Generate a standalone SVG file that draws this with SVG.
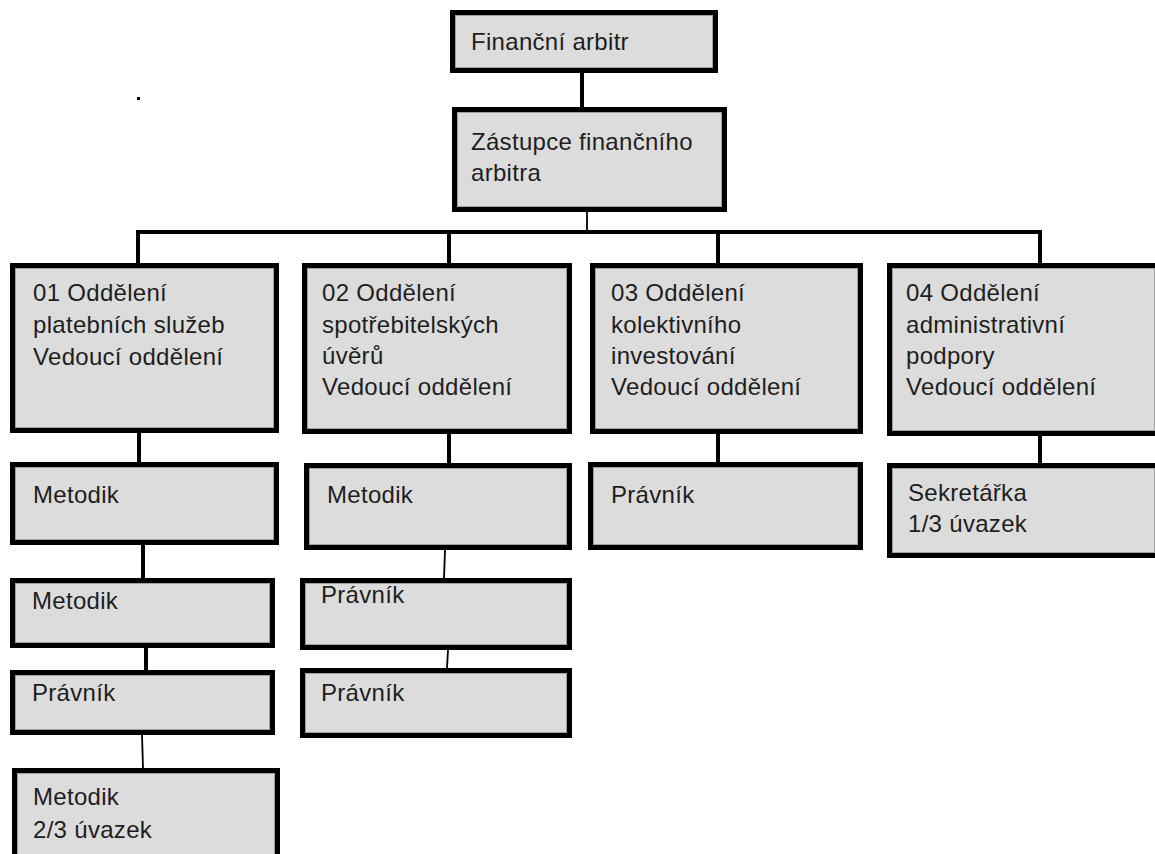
<svg xmlns="http://www.w3.org/2000/svg" width="1155" height="854" viewBox="0 0 1155 854">
<style>
.o{fill:#dcdcdc;stroke:#000;stroke-width:5}
.i{fill:none;stroke:#a0a0a0;stroke-width:1}
.t{font-family:"Liberation Sans",Arial,sans-serif;font-size:24px;letter-spacing:0.3px;fill:#1e1e1e}
.c{stroke:#000;stroke-width:4;fill:none}
.c2{stroke:#000;stroke-width:1.8;fill:none}
</style>
<rect width="1155" height="854" fill="#fff"/>
<rect x="137" y="97" width="3" height="3" fill="#000"/>
<g id="connectors">
<line class="c" x1="582" y1="73" x2="582" y2="107"/>
<line class="c2" x1="587" y1="212" x2="587" y2="232"/>
<line class="c" x1="136" y1="232" x2="1042" y2="232"/>
<line class="c" x1="138" y1="232" x2="138" y2="263"/>
<line class="c" x1="449" y1="232" x2="449" y2="263"/>
<line class="c" x1="718" y1="232" x2="718" y2="263"/>
<line class="c" x1="1040" y1="232" x2="1040" y2="263"/>
<line class="c" x1="139" y1="433" x2="139" y2="462"/>
<line class="c" x1="143" y1="545" x2="143" y2="578"/>
<line class="c" x1="146" y1="648" x2="146" y2="670"/>
<line class="c2" x1="142" y1="735" x2="143" y2="768"/>
<line class="c" x1="449" y1="434" x2="449" y2="463"/>
<line class="c2" x1="445" y1="550" x2="444" y2="578"/>
<line class="c2" x1="448" y1="650" x2="447" y2="668"/>
<line class="c" x1="718" y1="434" x2="718" y2="462"/>
<line class="c" x1="1040" y1="436" x2="1040" y2="463"/>
</g>
<g id="n-arbitr">
<rect class="o" x="452.5" y="12.5" width="263" height="58"/><rect class="i" x="455.5" y="15.5" width="257" height="52"/>
<text class="t" x="471" y="50">Finanční arbitr</text>
</g>
<g id="n-zastupce">
<rect class="o" x="454.5" y="109.5" width="270" height="100"/><rect class="i" x="457.5" y="112.5" width="264" height="94"/>
<text class="t" x="471" y="150">Zástupce finančního</text>
<text class="t" x="471" y="181">arbitra</text>
</g>
<g id="n-odd01">
<rect class="o" x="12.5" y="265.5" width="264" height="165"/><rect class="i" x="15.5" y="268.5" width="258" height="159"/>
<text class="t" x="33" y="301">01 Oddělení</text>
<text class="t" x="33" y="333">platebních služeb</text>
<text class="t" x="33" y="365">Vedoucí oddělení</text>
</g>
<g id="n-odd02">
<rect class="o" x="304.5" y="265.5" width="265" height="166"/><rect class="i" x="307.5" y="268.5" width="259" height="160"/>
<text class="t" x="322" y="301">02 Oddělení</text>
<text class="t" x="322" y="333">spotřebitelských</text>
<text class="t" x="322" y="364">úvěrů</text>
<text class="t" x="322" y="395">Vedoucí oddělení</text>
</g>
<g id="n-odd03">
<rect class="o" x="592.5" y="265.5" width="268" height="166"/><rect class="i" x="595.5" y="268.5" width="262" height="160"/>
<text class="t" x="611" y="301">03 Oddělení</text>
<text class="t" x="611" y="333">kolektivního</text>
<text class="t" x="611" y="364">investování</text>
<text class="t" x="611" y="395">Vedoucí oddělení</text>
</g>
<g id="n-odd04">
<rect class="o" x="889.5" y="265.5" width="268" height="168"/><rect class="i" x="892.5" y="268.5" width="262" height="162"/>
<text class="t" x="906" y="301">04 Oddělení</text>
<text class="t" x="906" y="333">administrativní</text>
<text class="t" x="906" y="364">podpory</text>
<text class="t" x="906" y="395">Vedoucí oddělení</text>
</g>
<g id="n-c1-metodik1">
<rect class="o" x="12.5" y="464.5" width="264" height="78"/><rect class="i" x="15.5" y="467.5" width="258" height="72"/>
<text class="t" x="33" y="503">Metodik</text>
</g>
<g id="n-c1-metodik2">
<rect class="o" x="12.5" y="580.5" width="260" height="65"/><rect class="i" x="15.5" y="583.5" width="254" height="59"/>
<text class="t" x="32" y="609">Metodik</text>
</g>
<g id="n-c1-pravnik">
<rect class="o" x="12.5" y="672.5" width="260" height="60"/><rect class="i" x="15.5" y="675.5" width="254" height="54"/>
<text class="t" x="32" y="701">Právník</text>
</g>
<g id="n-c1-metodik3">
<rect class="o" x="14.5" y="770.5" width="263" height="107"/><rect class="i" x="17.5" y="773.5" width="257" height="101"/>
<text class="t" x="33" y="805">Metodik</text>
<text class="t" x="33" y="838">2/3 úvazek</text>
</g>
<g id="n-c2-metodik">
<rect class="o" x="306.5" y="465.5" width="263" height="82"/><rect class="i" x="309.5" y="468.5" width="257" height="76"/>
<text class="t" x="327" y="503">Metodik</text>
</g>
<g id="n-c2-pravnik1">
<rect class="o" x="302.5" y="580.5" width="267" height="67"/><rect class="i" x="305.5" y="583.5" width="261" height="61"/>
<text class="t" x="321" y="603">Právník</text>
</g>
<g id="n-c2-pravnik2">
<rect class="o" x="302.5" y="670.5" width="267" height="65"/><rect class="i" x="305.5" y="673.5" width="261" height="59"/>
<text class="t" x="321" y="701">Právník</text>
</g>
<g id="n-c3-pravnik">
<rect class="o" x="590.5" y="464.5" width="270" height="83"/><rect class="i" x="593.5" y="467.5" width="264" height="77"/>
<text class="t" x="611" y="503">Právník</text>
</g>
<g id="n-c4-sekretarka">
<rect class="o" x="889.5" y="465.5" width="268" height="90"/><rect class="i" x="892.5" y="468.5" width="262" height="84"/>
<text class="t" x="908" y="501">Sekretářka</text>
<text class="t" x="908" y="532">1/3 úvazek</text>
</g>
</svg>
